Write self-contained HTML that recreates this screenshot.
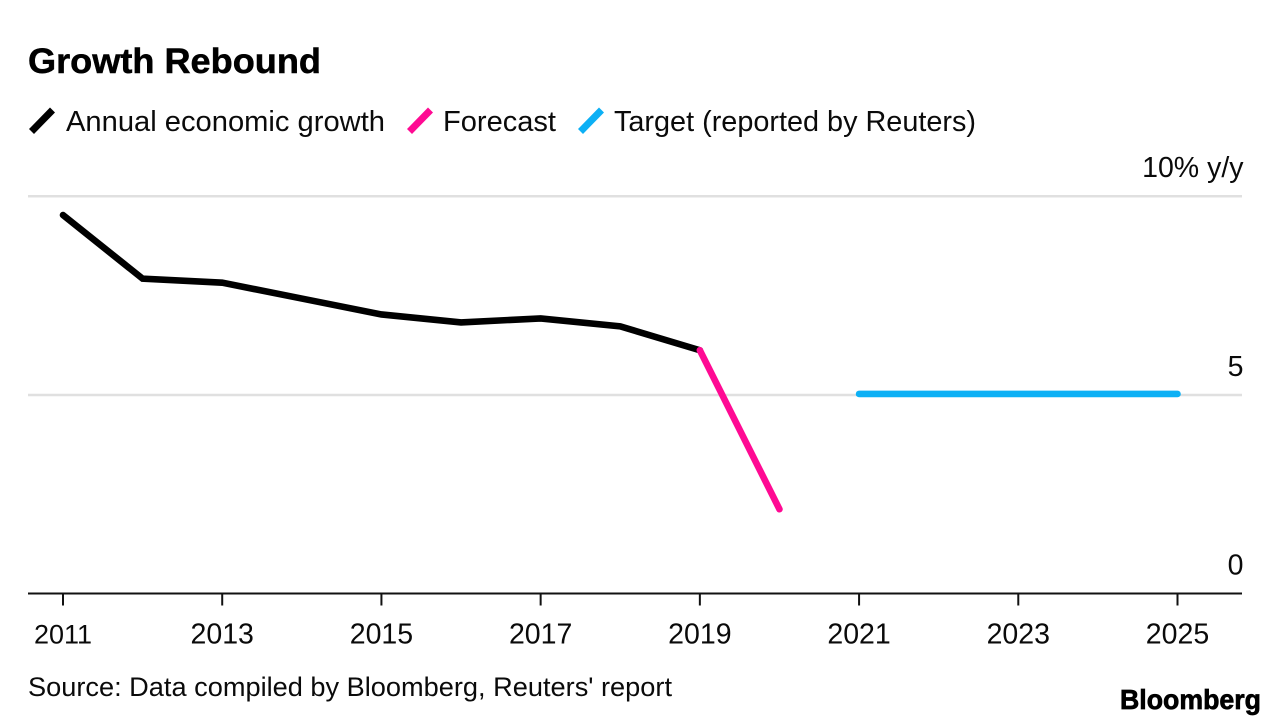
<!DOCTYPE html>
<html lang="en">
<head>
<meta charset="utf-8">
<title>Growth Rebound</title>
<style>
html,body{margin:0;padding:0;background:#fff;width:1288px;height:726px;overflow:hidden}
svg{display:block}
text{font-family:"Liberation Sans",sans-serif}
</style>
</head>
<body>
<svg id="chart" xmlns="http://www.w3.org/2000/svg" width="1288" height="726" viewBox="0 0 1288 726" fill="#0a0a0a">
  <rect x="0" y="0" width="1288" height="726" fill="#fff"/>
  <text x="28" y="73" font-size="35" font-weight="700" fill="#000" stroke="#000" stroke-width="0.5" textLength="293" lengthAdjust="spacingAndGlyphs">Growth Rebound</text>

  <g>
    <line x1="31.5" y1="131.5" x2="52.5" y2="110" stroke="#000" stroke-width="7"/>
    <text x="66" y="131" font-size="29" textLength="319" lengthAdjust="spacingAndGlyphs">Annual economic growth</text>
    <line x1="409.5" y1="131.5" x2="430.5" y2="110" stroke="#ff0a93" stroke-width="7"/>
    <text x="443" y="131" font-size="29" textLength="113" lengthAdjust="spacingAndGlyphs">Forecast</text>
    <line x1="580.5" y1="131.5" x2="601.5" y2="110" stroke="#0cb0f5" stroke-width="7"/>
    <text x="614" y="131" font-size="29" textLength="362" lengthAdjust="spacingAndGlyphs">Target (reported by Reuters)</text>
  </g>

  <g id="grid"></g>
  <g id="yLabels"></g>
  <g id="series" transform="translate(0,-0.8)"></g>
  <g id="xAxis"></g>

  <text x="28" y="696" font-size="27" textLength="644" lengthAdjust="spacingAndGlyphs">Source: Data compiled by Bloomberg, Reuters' report</text>
  <text x="1120" y="709" font-size="28" font-weight="700" fill="#000" stroke="#000" stroke-width="0.7" textLength="141" lengthAdjust="spacingAndGlyphs">Bloomberg</text>
</svg>
<script>
const yTicks = [0, 5, 10];
const yTickLabels = ['0', '5', '10% y/y'];
const xTicks = [2011, 2013, 2015, 2017, 2019, 2021, 2023, 2025];
const growthYears = [2011, 2012, 2013, 2014, 2015, 2016, 2017, 2018, 2019];
const growthValues = [9.5, 7.9, 7.8, 7.4, 7.0, 6.8, 6.9, 6.7, 6.1];
const forecastYears = [2019, 2020];
const forecastValues = [6.1, 2.1];
const targetYears = [2021, 2025];
const targetValues = [5.0, 5.0];

const NS = 'http://www.w3.org/2000/svg';
function xScale(year) { return 63 + (year - 2011) * (1177.5 - 63) / 14; }
function yScale(v) { return 593.5 - v * (593.5 - 196) / 10; }
function make(tag, parent, attrs, text) {
  const el = document.createElementNS(NS, tag);
  for (const k in attrs) el.setAttribute(k, attrs[k]);
  if (text !== undefined) el.textContent = text;
  parent.appendChild(el);
  return el;
}
const grid = document.getElementById('grid');
const yLabels = document.getElementById('yLabels');
const series = document.getElementById('series');
const xAxis = document.getElementById('xAxis');

yTicks.forEach(function (t, i) {
  if (t !== 0) {
    const gl = make('line', grid, { x1: 28, x2: 1242, y1: yScale(t) + 0.3, y2: yScale(t) + 0.3, stroke: '#e0e0e0', 'stroke-width': 2.5 });
    
    
  }
  const lab = make('text', yLabels, { x: 1243.5, y: yScale(t) - 19, 'text-anchor': 'end', 'font-size': 28.5 }, yTickLabels[i]);
  
  
});

function drawLine(years, values, color, name) {
  const pts = years.map(function (y, i) { return xScale(y) + ',' + yScale(values[i]); }).join(' ');
  const line = make('polyline', series, { points: pts, fill: 'none', stroke: color, 'stroke-width': 6.6, 'stroke-linecap': 'round', 'stroke-linejoin': 'miter' });
  
  
}
drawLine(growthYears, growthValues, '#000', 'annual-growth-line');
drawLine(forecastYears, forecastValues, '#ff0a93', 'forecast-line');
drawLine(targetYears, targetValues, '#0cb0f5', 'target-line');

const baseline = make('line', xAxis, { x1: 28, x2: 1242, y1: yScale(0), y2: yScale(0), stroke: '#111', 'stroke-width': 2 });


xTicks.forEach(function (t) {
  const tick = make('line', xAxis, { x1: xScale(t), x2: xScale(t), y1: yScale(0), y2: yScale(0) + 12, stroke: '#111', 'stroke-width': 2 });
  
  
  const lab = make('text', xAxis, { x: xScale(t), y: 643.5, 'text-anchor': 'middle', 'font-size': t === 2011 ? 27 : 28.5 }, String(t));
  
  
});
</script>
</body>
</html>
